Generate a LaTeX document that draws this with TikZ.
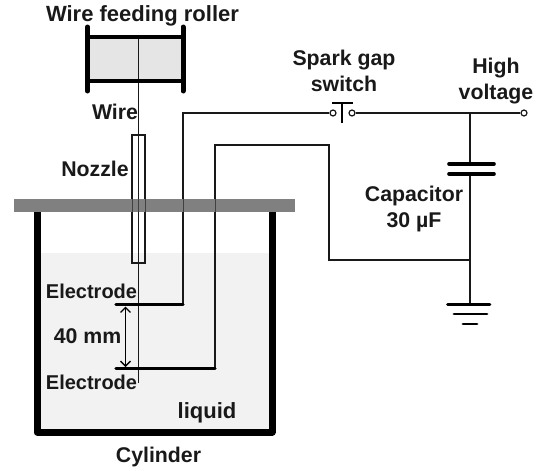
\documentclass[tikz,border=0pt]{standalone}
\usepackage{fontspec}
\usetikzlibrary{arrows.meta}
\setmainfont{Liberation Sans}
\tikzset{
  lab/.style={font=\fontsize{21.3}{26}\selectfont\bfseries, text=black!90, inner sep=0pt, align=center, anchor=center},
  labbig/.style={lab, font=\fontsize{22}{26}\selectfont\bfseries},
  labsmall/.style={lab, font=\fontsize{20}{24}\selectfont\bfseries},
  lead/.style={line width=2pt, line join=miter, draw=black!90},
  thick bar/.style={line width=4pt, draw=black},
  flange/.style={line width=5pt, line cap=round, draw=black},
  term/.style={circle, draw=black!90, line width=1.2pt, fill=white, minimum size=6pt, inner sep=0pt},
  plate/.style={line width=3.6pt, line cap=round, draw=black},
}
\begin{document}
\begin{tikzpicture}[x=1pt,y=-1pt]
\useasboundingbox (0,0) rectangle (539,471);
% roller
\fill[black!10] (88,36) rectangle (183,81);
% liquid
\fill[black!5] (39,253) rectangle (269,429);
% cylinder
\draw[line width=7pt, line join=round, draw=black] (37,212) -- (37,432) -- (272,432) -- (272,212);
% key coordinates
\coordinate (wtop) at (138.5,36);
\coordinate (wend) at (138.5,383);
\coordinate (e1l) at (116,304.5);
\coordinate (e1r) at (183,304.5);
\coordinate (e2l) at (116,368.5);
\coordinate (e2r) at (215,368.5);
\coordinate (c1) at (183,113);
\coordinate (c2) at (215,145);
\coordinate (c3) at (329,145);
\coordinate (c4) at (329,260);
\coordinate (j1) at (470,113);
\coordinate (j2) at (470,260);
\coordinate (g0) at (470,304);
\coordinate (capa) at (470,164);
\coordinate (capb) at (470,174);
\node[term] (swl) at (333,113) {};
\node[term] (swr) at (352,113) {};
\node[term] (hv) at (524,113) {};
% nozzle
\draw[lead, line width=1.6pt] (132,135) rectangle (145,263);
% wire
\draw[lead, line width=1.4pt] (wtop) -- (wend);
% roller bars
\draw[thick bar] (87,36.5) -- (183,36.5);
\draw[thick bar] (87,81) -- (183,81);
\draw[flange] (87.5,27) -- (87.5,91);
\draw[flange] (183,27) -- (183,91);
% leads
\draw[lead] (e1r) -- (c1) -- (swl);
\draw[lead] (e2r) -- (c2) -- (c3) -- (c4) -- (j2);
\draw[lead] (swr) -- (hv);
\draw[lead] (j1) -- (capa);
\draw[lead] (capb) -- (g0);
% plate
\fill[black!50] (14,199) rectangle (295,212);
% wires seen through plate
\draw[lead, line width=1pt, draw=black!75] (132,199) -- (132,212) (145,199) -- (145,212) (138.5,199) -- (138.5,212) (183,199) -- (183,212) (215,199) -- (215,212);
% electrodes
\draw[line width=3.4pt, line cap=round, draw=black] (e1l) -- (e1r);
\draw[line width=3.4pt, line cap=round, draw=black] (e2l) -- (e2r);
% dimension arrow
\coordinate (da) at (125.5,306.5);
\coordinate (db) at (125.5,367);
\draw[line width=1.3pt, draw=black, {Straight Barb[length=5pt,width=10pt]}-{Straight Barb[length=5pt,width=10pt]}] (da) -- (db);
% switch
\draw[line width=2pt, draw=black] (332,103) -- (353,103);
\draw[line width=2pt, draw=black] (342,103) -- (342,123);
% capacitor
\draw[plate] (449,164) -- (494,164);
\draw[plate] (449,174) -- (494,174);
% ground
\draw[line width=2.8pt, line cap=round, draw=black] (447.5,304.5) -- (490,304.5);
\draw[line width=2.8pt, line cap=round, draw=black] (454,314) -- (487,314);
\draw[line width=2.8pt, line cap=round, draw=black] (463,324) -- (477,324);
% labels
\node[labbig] (t1) at (142.5,16) {Wire feeding roller};
\node[lab] (t2) at (115,112) {Wire};
\node[lab] (t3) at (95,169) {Nozzle};
\node[lab] (t4) at (344,71) {Spark gap\\switch};
\node[lab] (t5) at (496,81) {High\\voltage};
\node[lab] (t6) at (414,209) {Capacitor\\30 µF};
\node[labsmall] (t7) at (91.5,291) {Electrode};
\node[labsmall] (t8) at (91.5,382) {Electrode};
\node[lab] (t9) at (87.5,336) {40 mm};
\node[labbig] (t10) at (207,413) {liquid};
\node[lab] (t11) at (158.5,457) {Cylinder};
\end{tikzpicture}
\end{document}
